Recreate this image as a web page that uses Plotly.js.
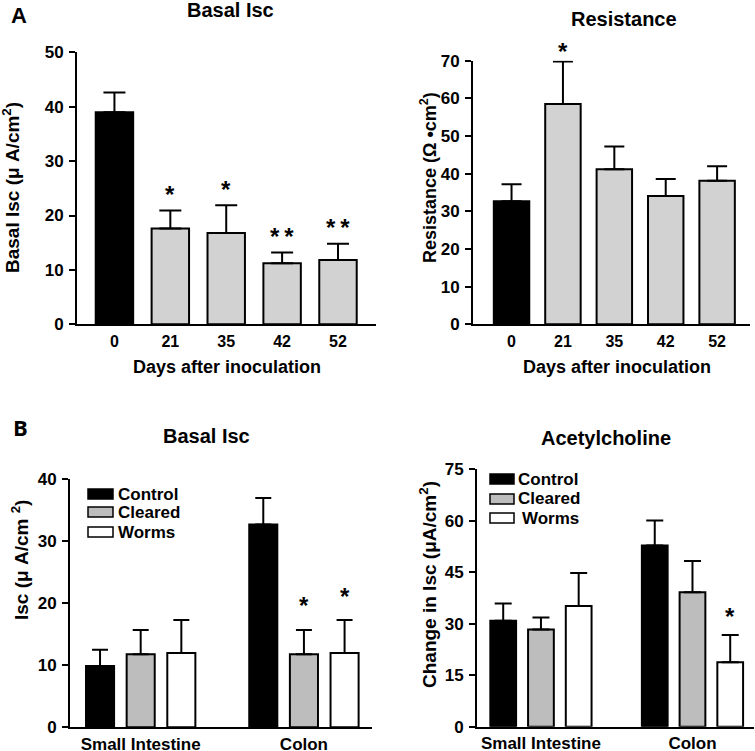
<!DOCTYPE html>
<html>
<head>
<meta charset="utf-8">
<script src="https://cdn.plot.ly/plotly-3.0.1.min.js"></script>
<style>html,body{margin:0;padding:0;background:#fff;}#chart{width:755px;height:751px;}</style>
</head>
<body>
<div id="chart"></div>
<script>
// ---------- data ----------
const days = ['0', '21', '35', '42', '52'];
const basalIsc = [39.0, 17.6, 16.8, 11.2, 11.8];
const basalIscErr = [3.6, 3.3, 5.1, 2.0, 3.0];
const basalIscSig = ['', '*', '*', '*\u2009*', '*\u2009*'];

const resistance = [32.7, 58.5, 41.2, 34.1, 38.1];
const resistanceErr = [4.5, 11.3, 6.0, 4.5, 3.9];
const resistanceSig = ['', '*', '', '', ''];

const regions = ['Small Intestine', 'Colon'];
const groups = ['Control', 'Cleared', 'Worms'];

const iscControl = [9.9, 32.7];
const iscControlErr = [2.6, 4.3];
const iscCleared = [11.8, 11.8];
const iscClearedErr = [3.9, 3.9];
const iscWorms = [12.0, 12.0];
const iscWormsErr = [5.3, 5.3];
const iscSig = [['', ''], ['', '*'], ['', '*']];

const achControl = [30.9, 52.8];
const achControlErr = [5.0, 7.3];
const achCleared = [28.3, 39.2];
const achClearedErr = [3.5, 9.1];
const achWorms = [35.2, 18.8];
const achWormsErr = [9.6, 7.9];
const achSig = [['', ''], ['', ''], ['', '*']];

// ---------- style ----------
const W = 755, H = 751;
const FONT = 'Liberation Sans, Arial, sans-serif';
const BLACK = '#000000';
const GREY_A = '#d2d2d2';
const GREY_B = '#bdbdbd';
const WHITE = '#ffffff';
const px = v => v / W;
const py = v => 1 - v / H;
const bold = (size) => ({family: FONT, size: size, color: BLACK, weight: 'bold'});
const zeros = n => new Array(n).fill(0);

function errBar(arr, w) {
  return {type: 'data', symmetric: false, array: arr, arrayminus: zeros(arr.length),
          color: BLACK, thickness: 2, width: w};
}

const traces = [];
// Panel A left
traces.push({
  type: 'bar', x: days, y: basalIsc, xaxis: 'x', yaxis: 'y', width: 0.67,
  marker: {color: days.map((d, i) => i === 0 ? BLACK : GREY_A), line: {color: BLACK, width: 2}},
  error_y: errBar(basalIscErr, 11), showlegend: false, hoverinfo: 'skip'
});
// Panel A right
traces.push({
  type: 'bar', x: days, y: resistance, xaxis: 'x2', yaxis: 'y2', width: 0.69,
  marker: {color: days.map((d, i) => i === 0 ? BLACK : GREY_A), line: {color: BLACK, width: 2}},
  error_y: errBar(resistanceErr, 10), showlegend: false, hoverinfo: 'skip'
});
// Panel B grouped
const groupFill = [BLACK, GREY_B, WHITE];
const bw = 0.172;
const slot = 0.249;
const iscVals = [iscControl, iscCleared, iscWorms];
const iscErrs = [iscControlErr, iscClearedErr, iscWormsErr];
const achVals = [achControl, achCleared, achWorms];
const achErrs = [achControlErr, achClearedErr, achWormsErr];
groups.forEach((g, k) => {
  traces.push({
    type: 'bar', name: g, x: regions, y: iscVals[k], xaxis: 'x3', yaxis: 'y3',
    width: bw, offset: (k - 1) * slot - bw / 2,
    marker: {color: groupFill[k], line: {color: BLACK, width: 2}},
    error_y: errBar(iscErrs[k], 8), showlegend: false, hoverinfo: 'skip'
  });
  traces.push({
    type: 'bar', name: g, x: regions, y: achVals[k], xaxis: 'x4', yaxis: 'y4',
    width: 0.17, offset: (k - 1) * slot - 0.085,
    marker: {color: groupFill[k], line: {color: BLACK, width: 2}},
    error_y: errBar(achErrs[k], 8.5), showlegend: false, hoverinfo: 'skip'
  });
});

// ---------- axes ----------
function xax(domain, range, tickSize, standoff) {
  return {domain: domain, anchor: null, type: 'category', range: range,
          showline: true, linecolor: BLACK, linewidth: 2, ticks: '', showgrid: false,
          zeroline: false, tickfont: bold(tickSize), fixedrange: true, ticklabelstandoff: standoff};
}
function yax(domain, range, dtick) {
  return {domain: domain, range: range, dtick: dtick, ticks: 'outside', ticklen: 6,
          tickwidth: 2, tickcolor: BLACK, showline: true, linecolor: BLACK, linewidth: 2,
          showgrid: false, zeroline: false, tickfont: bold(17), fixedrange: true,
          ticklabelstandoff: 2};
}
const layout = {
  width: W, height: H, margin: {l: 0, r: 0, t: 0, b: 0},
  paper_bgcolor: WHITE, plot_bgcolor: 'rgba(0,0,0,0)',
  barmode: 'overlay', showlegend: false,
  xaxis: Object.assign(xax([px(77), px(376)], [-0.67, 4.68], 16, 1), {anchor: 'y'}),
  yaxis: Object.assign(yax([py(324.3), py(52.3)], [0, 50], 10), {anchor: 'x'}),
  xaxis2: Object.assign(xax([px(473), px(750)], [-0.75, 4.64], 16, 1), {anchor: 'y2'}),
  yaxis2: Object.assign(yax([py(324.3), py(60.7)], [0, 70], 10), {anchor: 'x2'}),
  xaxis3: Object.assign(xax([px(70), px(372)], [-0.433, 1.417], 17, 0), {anchor: 'y3'}),
  yaxis3: Object.assign(yax([py(727.3), py(479.3)], [0, 40], 10), {anchor: 'x3'}),
  xaxis4: Object.assign(xax([px(477), px(754)], [-0.422, 1.406], 17, 0), {anchor: 'y4'}),
  yaxis4: Object.assign(yax([py(726.7), py(469.3)], [0, 75], 15), {anchor: 'x4'}),
  annotations: [],
  shapes: []
};

const ann = layout.annotations;
function text(t, x, y, size, opts) {
  ann.push(Object.assign({text: t, x: px(x), y: py(y), xref: 'paper', yref: 'paper',
    showarrow: false, xanchor: 'center', yanchor: 'middle', font: bold(size)}, opts || {}));
}
// panel letters and titles
text('A', 19, 15, 22);
text('B', 20, 427, 22, {font: {family: 'Open Sans, sans-serif', size: 22, weight: 'bold', color: BLACK}});
text('Basal Isc', 230, 10, 20);
text('Resistance', 624, 19, 20);
text('Basal Isc', 206, 436, 20);
text('Acetylcholine', 606, 438, 20);
// axis titles
text('Basal Isc (μ A/cm<sup>2</sup>)', 11, 188, 19, {textangle: -90});
text('Resistance (Ω •cm<sup>2</sup>)', 428, 178, 18, {textangle: -90});
text('Isc (μ A/cm <sup>2</sup>)', 20, 560, 19, {textangle: -90});
text('Change in Isc (μA/cm<sup>2</sup>)', 428, 585, 19, {textangle: -90});
text('Days after inoculation', 227, 367, 18);
text('Days after inoculation', 617, 367, 18);

// significance stars (x given as category index)
function stars(n, vals, errs, sig, xr, yr, shift, off) {
  for (let i = 0; i < n; i++) {
    if (!sig[i]) continue;
    ann.push({text: sig[i], x: i, y: vals[i] + errs[i], xref: xr, yref: yr,
      xshift: off || 0, yshift: shift, showarrow: false, xanchor: 'center', yanchor: 'middle',
      font: {family: FONT, size: 24, color: BLACK, weight: 'bold'}});
  }
}
stars(days.length, basalIsc, basalIscErr, basalIscSig, 'x', 'y', 16, 0);
stars(days.length, resistance, resistanceErr, resistanceSig, 'x2', 'y2', 10, 0);
groups.forEach((g, k) => {
  stars(regions.length, iscVals[k], iscErrs[k], iscSig[k], 'x3', 'y3', 24, (k - 1) * slot * 163.2);
  stars(regions.length, achVals[k], achErrs[k], achSig[k], 'x4', 'y4', 19, (k - 1) * slot * 151.5);
});

// legends (drawn from the group names)
function legend(x0, x1, ys, tx, txs) {
  groups.forEach((g, k) => {
    layout.shapes.push({type: 'rect', xref: 'paper', yref: 'paper',
      x0: px(x0), x1: px(x1), y0: py(ys[k] + 5), y1: py(ys[k] - 5),
      fillcolor: groupFill[k], line: {color: BLACK, width: 1.5}});
    text(g, (txs && txs[k]) || tx, ys[k], 17, {xanchor: 'left'});
  });
}
legend(88, 113, [494, 512, 532], 116);
legend(490, 514, [479, 499, 518], 516, [516, 516, 520]);

Plotly.newPlot('chart', traces, layout, {staticPlot: true, displayModeBar: false});
</script>
</body>
</html>
